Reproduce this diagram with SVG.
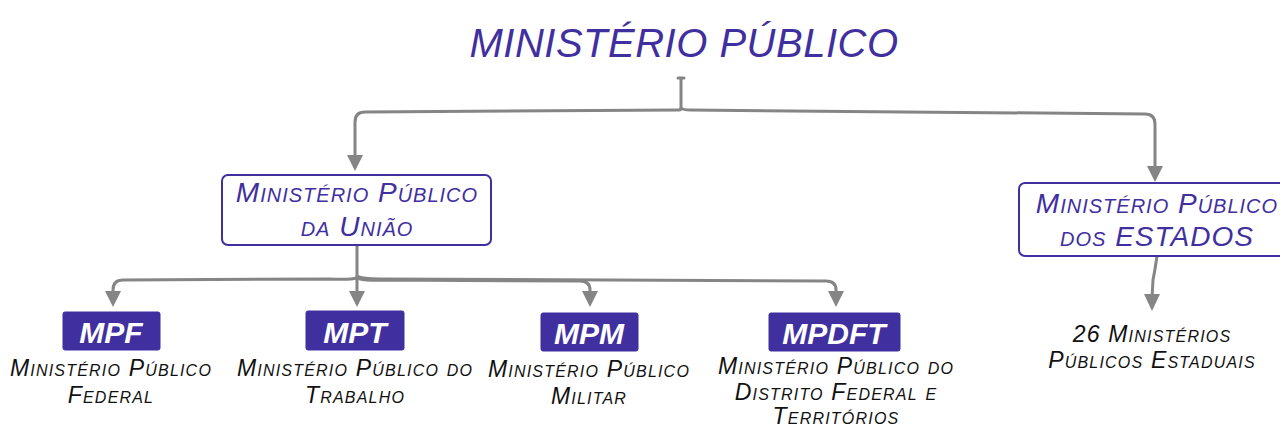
<svg xmlns="http://www.w3.org/2000/svg" width="1280" height="427" viewBox="0 0 1280 427">
<style>
.t{font-family:"Liberation Sans",Arial,sans-serif;font-style:italic;text-anchor:middle}
.title{font-size:40px;fill:#3f2f9f;letter-spacing:0.5px}
.hdr{font-size:28px;fill:#3f2f9f;font-variant:small-caps;letter-spacing:1px}
.lab{font-size:23px;fill:#111;font-variant:small-caps;letter-spacing:1.2px}
.abbr{font-size:30px;fill:#fff;font-weight:bold}
.box{fill:#fff;stroke:#3f2f9f;stroke-width:2}
.fill{fill:#3f2f9f;stroke:#3f2f9f;stroke-width:1}
.c{fill:none;stroke:#858585;stroke-width:3;stroke-linecap:round;stroke-linejoin:round}
</style>
<rect width="1280" height="427" fill="#fff"/>
<g id="connectors">
<path class="c" d="M678,78 L684,78 M681,78 L681,108 Q681,110 679,110 L365,112 Q355,112 355,122 L355,160"/>
<path d="M347,155 L363,155 L355,171 Z" fill="#858585"/>
<path class="c" d="M681,108 Q683,110 690,110 L1145,114 Q1155,114 1155,124 L1155,170"/>
<path d="M1147,166 L1163,166 L1155,182 Z" fill="#858585"/>
<path class="c" d="M357,246 L357,278 M357,278 Q350,280 330,279 L123,280 Q113,280 113,290 L113,296"/>
<path d="M105,291 L121,291 L113,307 Z" fill="#858585"/>
<path class="c" d="M357,278 L357,296"/>
<path d="M349,291 L365,291 L357,307 Z" fill="#858585"/>
<path class="c" d="M357,278 Q362,281 380,280 L580,281 Q590,281 590,290 L590,296"/>
<path d="M582,291 L598,291 L590,307 Z" fill="#858585"/>
<path class="c" d="M357,276 Q362,279 380,279 L826,281 Q836,281 836,290 L836,296"/>
<path d="M828,291 L844,291 L836,307 Z" fill="#858585"/>
<path class="c" d="M1157,256 Q1155,270 1153,280 L1152,298"/>
<path d="M1144,294 L1160,294 L1152,311 Z" fill="#858585"/>
</g>
<g id="title">
<text class="t title" x="684" y="57">MINISTÉRIO PÚBLICO</text>
</g>
<g id="mpu">
<rect class="box" x="222" y="175" width="269" height="70" rx="6"/>
<text class="t hdr" x="357" y="202">Ministério Público</text>
<text class="t hdr" x="357" y="236">da União</text>
</g>
<g id="mpe">
<rect class="box" x="1019" y="183" width="270" height="73" rx="6"/>
<text class="t hdr" x="1157" y="213">Ministério Público</text>
<text class="t hdr" x="1157" y="246">dos ESTADOS</text>
</g>
<g id="mpf">
<rect class="fill" x="63" y="312" width="97" height="38" rx="2"/>
<text class="t abbr" x="111" y="343">MPF</text>
<text class="t lab" x="111" y="376">Ministério Público</text>
<text class="t lab" x="111" y="403">Federal</text>
</g>
<g id="mpt">
<rect class="fill" x="306" y="311" width="98" height="39" rx="2"/>
<text class="t abbr" x="355" y="343">MPT</text>
<text class="t lab" x="355" y="376">Ministério Público do</text>
<text class="t lab" x="355" y="403">Trabalho</text>
</g>
<g id="mpm">
<rect class="fill" x="541" y="313" width="97" height="38" rx="2"/>
<text class="t abbr" x="589" y="344">MPM</text>
<text class="t lab" x="589" y="377">Ministério Público</text>
<text class="t lab" x="589" y="404">Militar</text>
</g>
<g id="mpdft">
<rect class="fill" x="769" y="313" width="131" height="38" rx="2"/>
<text class="t abbr" x="834" y="344">MPDFT</text>
<text class="t lab" x="836" y="374">Ministério Público do</text>
<text class="t lab" x="836" y="400">Distrito Federal e</text>
<text class="t lab" x="836" y="424">Territórios</text>
</g>
<g id="estaduais">
<text class="t lab" x="1152" y="342">26 Ministérios</text>
<text class="t lab" x="1152" y="368">Públicos Estaduais</text>
</g>
</svg>
